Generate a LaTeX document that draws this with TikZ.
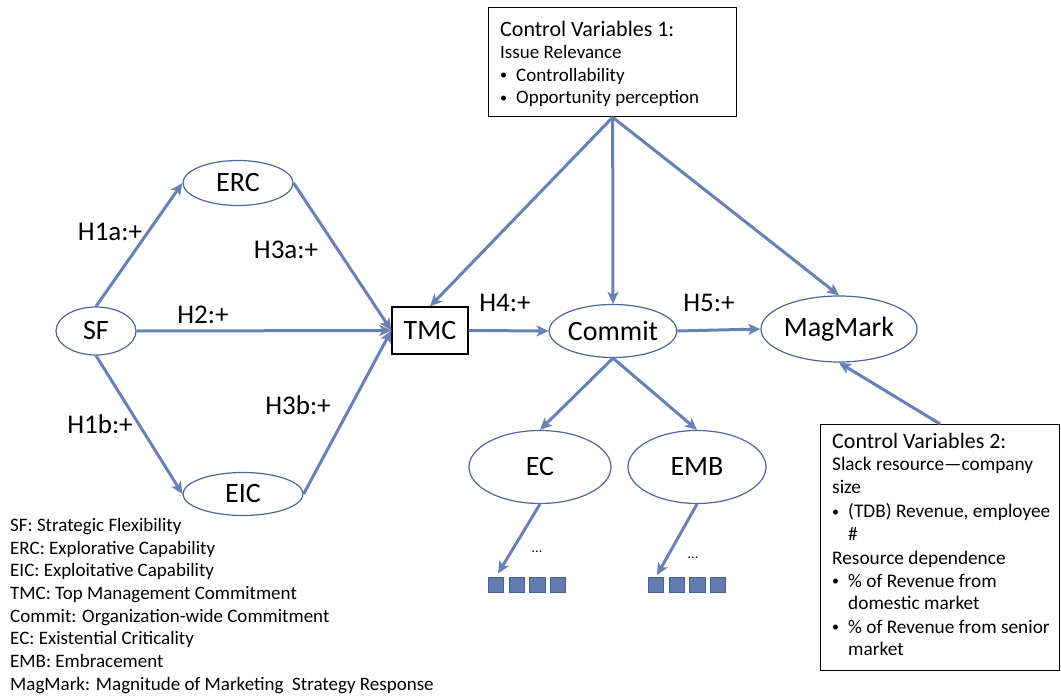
\documentclass[tikz,border=0pt]{standalone}
\usepackage{fontspec}
\setmainfont{Carlito}
\usetikzlibrary{shapes.geometric,arrows.meta}
\definecolor{arr}{RGB}{104,129,180}
\definecolor{ell}{RGB}{79,102,150}
\definecolor{sqf}{RGB}{98,124,173}
\definecolor{sqd}{RGB}{72,96,145}
\newcommand{\bul}{\makebox[16pt][l]{\raisebox{1.5pt}{\fontsize{14}{14}\selectfont •}}}
\begin{document}
\begin{tikzpicture}[x=1pt,y=-1pt,
  ov/.style={ellipse,draw=ell,line width=1.2pt,inner sep=0pt,font=\fontsize{28}{28}\selectfont},
  bx/.style={rectangle,draw=black,line width=1.3pt,inner sep=0pt},
  conn/.style={draw=arr,line width=3pt,-{Stealth[length=12pt,width=11pt,inset=3pt]}},
  lab/.style={font=\fontsize{27}{27}\selectfont,inner sep=0pt},
  sqbox/.style={rectangle,draw=sqd,fill=sqf,line width=0.8pt,minimum size=15.5pt,inner sep=0pt},
  txt/.style={inner sep=0pt,align=left,anchor=north west,font=\fontsize{19}{22.5}\selectfont},
  dots/.style={inner sep=0pt,font=\fontsize{14}{14}\selectfont}]
\path[use as bounding box] (0,0) rectangle (1061,698);

% nodes
\node[ov,minimum width=80pt,minimum height=48pt] (sf) at (96,331) {SF};
\node[ov,minimum width=110pt,minimum height=45pt] (erc) at (238,183) {ERC};
\node[ov,minimum width=120pt,minimum height=43pt] (eic) at (243,494) {EIC};
\node[bx,minimum width=76pt,minimum height=47pt,font=\fontsize{28}{28}\selectfont] (tmc) at (430,330.5) {TMC};
\node[ov,minimum width=110pt,minimum height=53pt] (commit) at (613,331) {Commit};
\node[ov,minimum width=136pt,minimum height=66pt] (mag) at (839,329) {MagMark};
\node[ov,minimum width=142pt,minimum height=73pt] (ec) at (540,467) {EC};
\node[ov,minimum width=138pt,minimum height=73pt] (emb) at (697,467) {EMB};

% control variable boxes
\node[bx,anchor=north west,minimum width=248pt,minimum height=109pt] (cva) at (488,7) {};
\node[txt] (cvatext) at (500,21) {{\fontsize{22}{22.5}\selectfont Control Variables 1:}\\
Issue Relevance\\
\bul Controllability\\
\bul Opportunity perception};

\node[bx,anchor=north west,minimum width=239pt,minimum height=246pt] (cvb) at (820,424) {};
\node[txt,font=\fontsize{19.3}{22.5}\selectfont] (cvbtext) at (832,433) {{\fontsize{22}{22.5}\selectfont Control Variables 2:}\\
Slack resource—company\\
size\\[2pt]
\bul (TDB) Revenue, employee\\
\hspace*{16pt}\#\\[2pt]
Resource dependence\\
\bul \% of Revenue from\\
\hspace*{16pt}domestic market\\[1pt]
\bul \% of Revenue from senior\\
\hspace*{16pt}market};

% legend
\node[txt,font=\fontsize{19}{22.7}\selectfont] (legend) at (10,518) {SF: Strategic Flexibility\\
ERC: Explorative Capability\\
EIC: Exploitative Capability\\
TMC: Top Management Commitment\\
Commit: Organization-wide Commitment\\
EC: Existential Criticality\\
EMB: Embracement\\
MagMark: Magnitude of Marketing\ \ Strategy Response};

% indicator squares
\foreach \i/\xx in {1/496,2/516.7,3/537.3,4/558}{
  \node[sqbox] (ecs\i) at (\xx,585) {};
}
\foreach \i/\xx in {1/656,2/676.7,3/697.3,4/718}{
  \node[sqbox] (embs\i) at (\xx,585) {};
}
\node[dots] (ecdots) at (537,552) {...};
\node[dots] (embdots) at (693,558) {...};

% connectors
\draw[conn] (sf.north) -- (erc.west);
\draw[conn] (sf.east) -- (tmc.west);
\draw[conn] (sf.south) -- (eic.west);
\draw[conn] (erc.east) -- (tmc.west);
\draw[conn] (eic.east) -- (tmc.west);
\draw[conn] (cva.south) -- (tmc.north);
\draw[conn] (cva.south) -- (commit.north);
\draw[conn] (cva.south) -- (mag.north);
\draw[conn] (tmc.east) -- (commit.west);
\draw[conn] (commit.east) -- (mag.west);
\draw[conn] (commit.south) -- (ec.north);
\draw[conn] (commit.south) -- (emb.north);
\draw[conn] (cvb.north) -- (mag.south);
\draw[conn,shorten >=4pt] (ec.south) -- (ecs1.north);
\draw[conn,shorten >=2pt] (emb.south) -- (embs1.north);

% hypothesis labels
\node[lab] (h1a) at (110,232) {H1a:+};
\node[lab] (h3a) at (286,250) {H3a:+};
\node[lab] (h2) at (203,315) {H2:+};
\node[lab] (h1b) at (100,424) {H1b:+};
\node[lab] (h3b) at (298,405) {H3b:+};
\node[lab] (h4) at (505,303) {H4:+};
\node[lab] (h5) at (709,303) {H5:+};
\end{tikzpicture}
\end{document}
